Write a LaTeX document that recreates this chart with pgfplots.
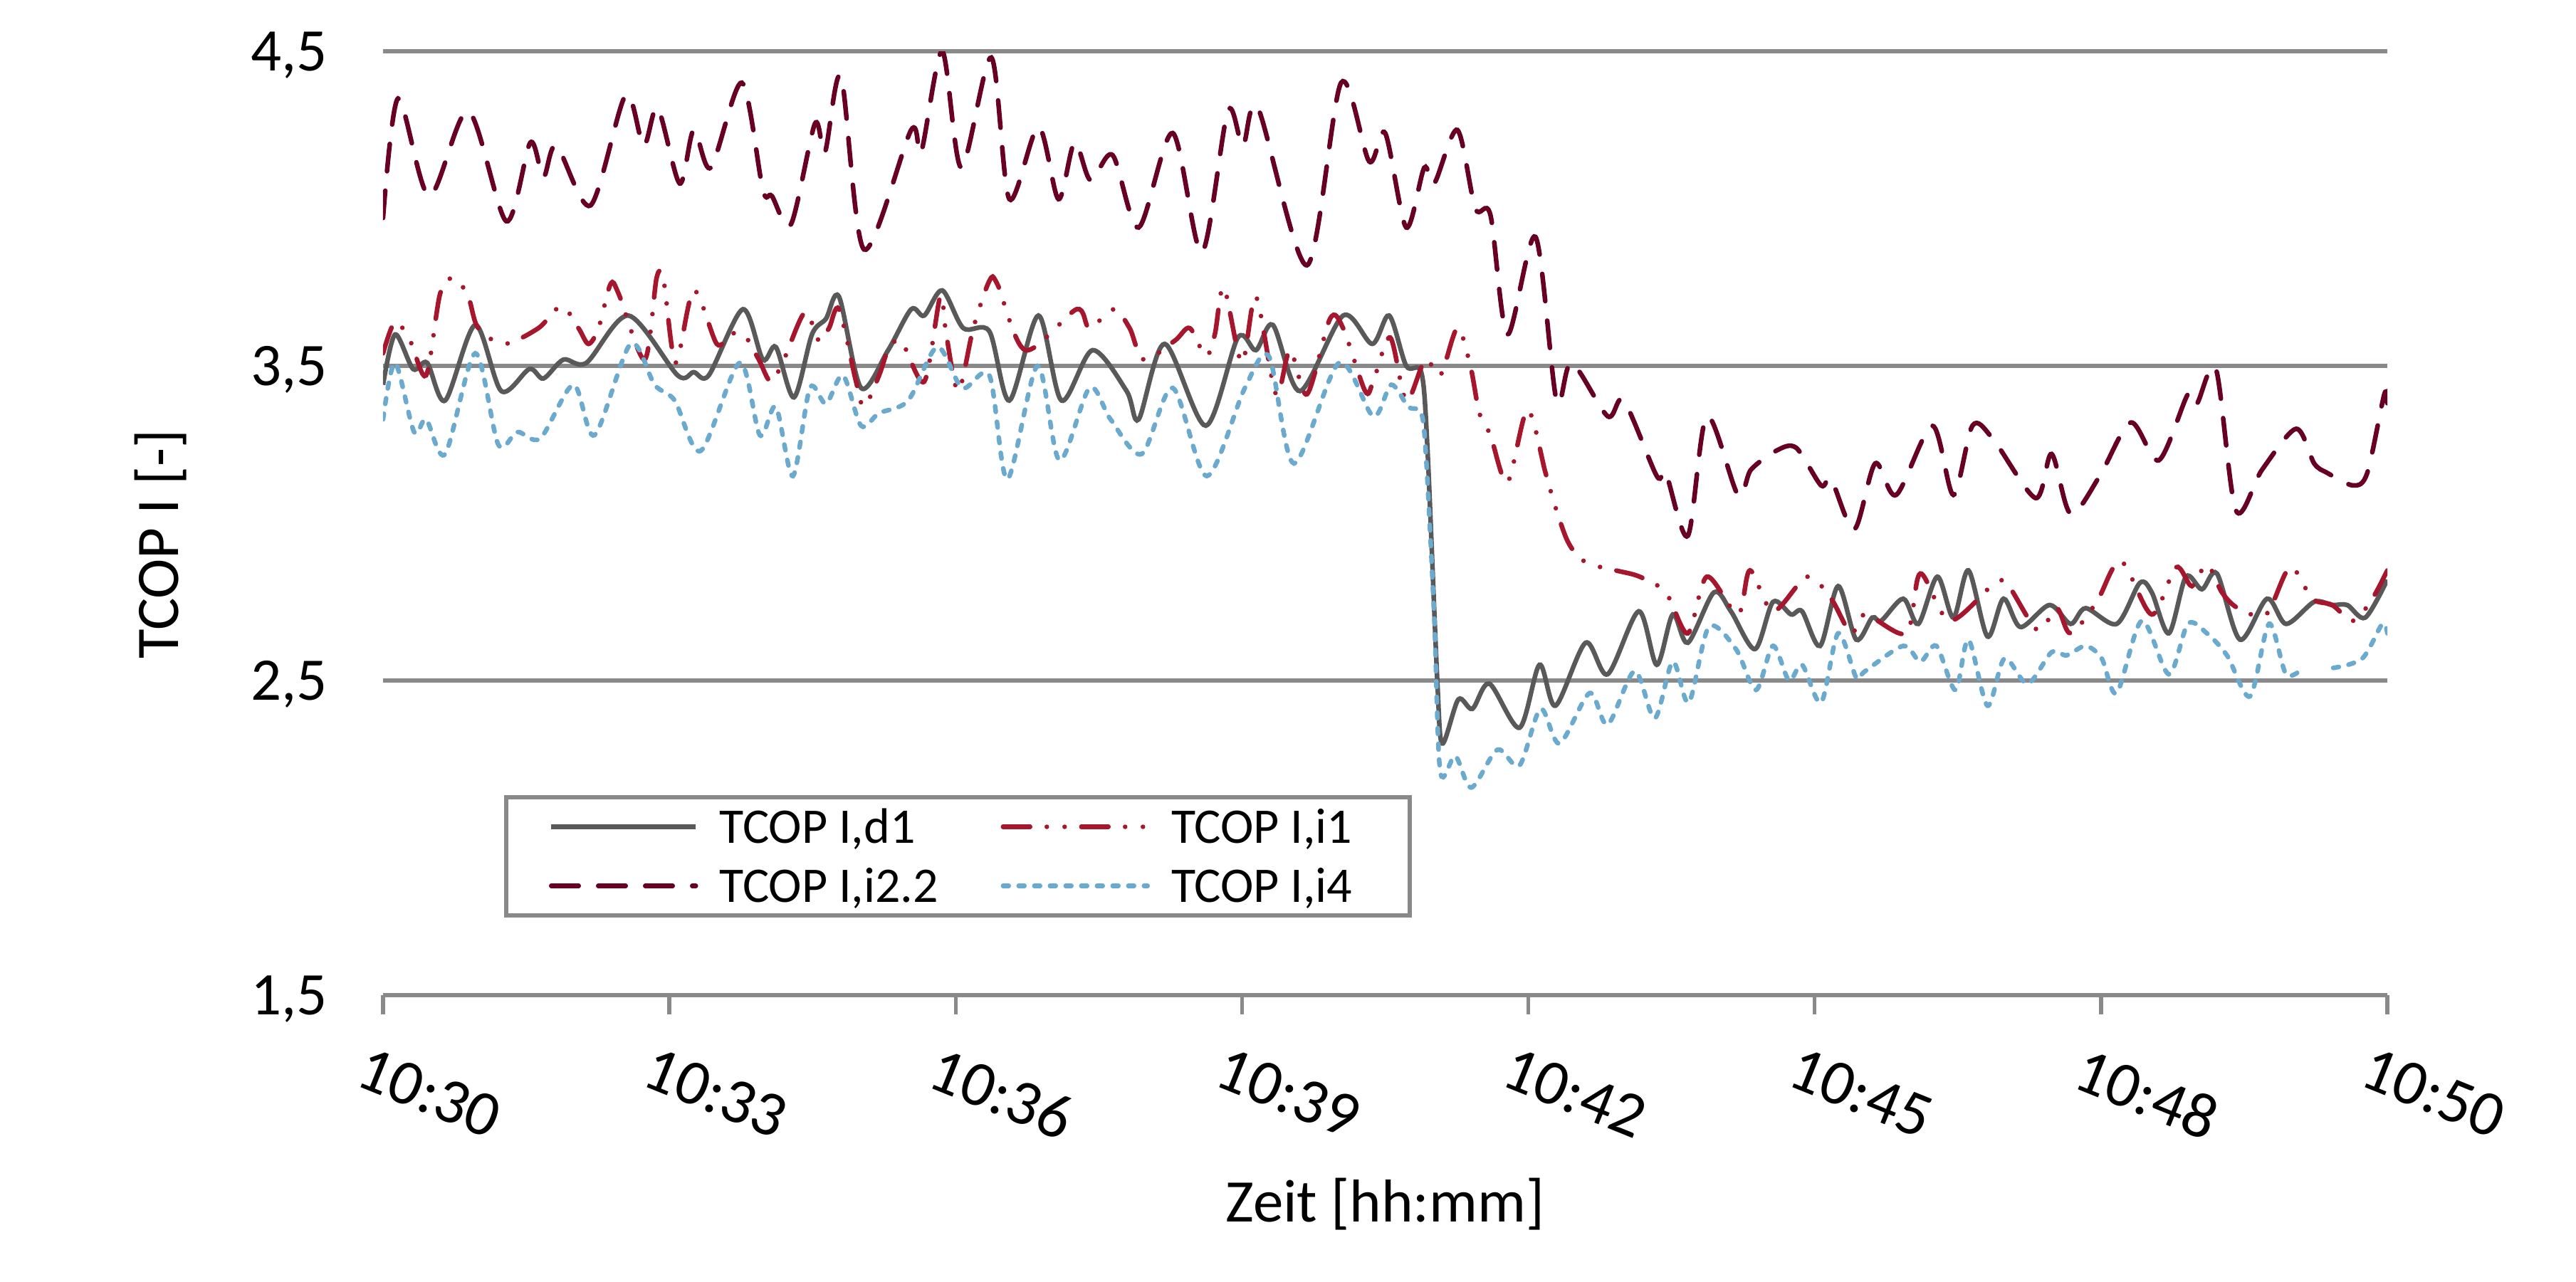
\documentclass[border=0pt]{standalone}
\usepackage{pgfplots}
\pgfplotsset{compat=1.18}
\usepackage{fontspec}
\setmainfont{Carlito}
\definecolor{cgrid}{HTML}{898989}
\definecolor{cdone}{HTML}{595959}
\definecolor{cione}{HTML}{A6172D}
\definecolor{citwo}{HTML}{680022}
\definecolor{cifour}{HTML}{6BAACF}
\newcommand{\bigf}{\fontsize{17}{20}\selectfont}
\begin{document}
\begin{tikzpicture}
\useasboundingbox (-107.6pt,-80.4pt) rectangle (616pt,279.6pt);
\begin{axis}[
  at={(0pt,0pt)}, anchor=south west,
  scale only axis, width=563pt, height=265.2pt,
  xmin=0, xmax=20, ymin=1.5, ymax=4.5,
  separate axis lines,
  axis x line*=bottom, axis y line*=left,
  x axis line style={draw=cgrid, line width=1.1pt},
  y axis line style={draw=none},
  xtick={0,2.857142857,5.714285714,8.571428571,11.42857143,14.28571429,17.14285714,20},
  xticklabels={10:30,10:33,10:36,10:39,10:42,10:45,10:48,10:50},
  xtick align=outside,
  major tick length=5.4pt,
  xtick style={draw=cgrid, line width=1.1pt},
  ytick={1.5,2.5,3.5,4.5},
  yticklabels={{1,5},{2,5},{3,5},{4,5}},
  ytick style={draw=none},
  ymajorgrids,
  grid style={draw=cgrid, line width=1.1pt},
  xticklabel style={font=\fontsize{18}{21}\selectfont, rotate=-22, anchor=north west, inner sep=0pt, yshift=-9.5pt, xshift=-0.5pt},
  yticklabel style={font=\bigf, anchor=east, inner sep=0pt, text height=10.95pt, text depth=0pt, xshift=-15.4pt},
  xlabel={Zeit [hh:mm]},
  ylabel={TCOP I [-]},
  every axis x label/.style={at={(axis description cs:0.5,-0.2195)}, anchor=center, font=\bigf, text height=10.95pt, text depth=0pt, inner sep=0pt},
  every axis y label/.style={at={(axis description cs:-0.1117,0.4778)}, anchor=center, rotate=90, font=\bigf, text height=10.95pt, text depth=0pt, inner sep=0pt},
  legend columns=2,
  legend cell align=left,
  legend style={at={(axis description cs:0.0604,0.2119)}, anchor=north west, draw=cgrid, line width=1.2pt, inner sep=0pt, column sep=0pt, row sep=0pt, font=\fontsize{14}{16}\selectfont, nodes={inner sep=0pt, text height=12.8pt, text depth=3.8pt}},
  legend image code/.code={\path (0pt,0pt) (58.6pt,0pt); \draw[#1] (12pt,0pt) -- (52.6pt,0pt);},
  unbounded coords=jump,
  every axis plot/.append style={line width=1.3pt, smooth, tension=0.5},
]
\addplot[color=cdone, solid] coordinates {
(0,3.44)(0.12,3.60)(0.30,3.49)(0.44,3.51)(0.62,3.39)(0.92,3.63)(1.18,3.42)(1.46,3.49)(1.60,3.46)(1.80,3.52)
(2.03,3.51)(2.45,3.66)(2.94,3.47)(3.10,3.48)(3.25,3.47)(3.59,3.68)(3.79,3.52)(3.92,3.56)(4.10,3.40)(4.28,3.60)
(4.42,3.65)(4.55,3.72)(4.77,3.43)(5.04,3.55)(5.27,3.68)(5.40,3.66)(5.58,3.74)(5.79,3.62)(6.05,3.61)(6.25,3.39)
(6.54,3.66)(6.77,3.39)(7.08,3.55)(7.42,3.42)(7.54,3.33)(7.80,3.57)(8.21,3.31)(8.53,3.59)(8.71,3.55)(8.88,3.63)
(9.15,3.42)(9.58,3.66)(9.87,3.57)(10.04,3.66)(10.21,3.50)(10.36,3.48)(10.42,3.25)(10.52,2.50)(10.57,2.30)
(10.73,2.44)(10.87,2.41)(11.04,2.49)(11.34,2.35)(11.54,2.55)(11.70,2.42)(12.00,2.62)(12.22,2.52)(12.53,2.72)
(12.71,2.55)(12.87,2.71)(13.02,2.62)(13.28,2.78)(13.45,2.72)(13.69,2.60)(13.87,2.75)(14.05,2.71)(14.16,2.72)
(14.34,2.61)(14.52,2.80)(14.70,2.63)(14.86,2.70)(14.95,2.69)(15.17,2.76)(15.32,2.68)(15.51,2.83)(15.67,2.70)
(15.82,2.85)(16.01,2.64)(16.17,2.76)(16.34,2.67)(16.63,2.74)(16.84,2.68)(16.99,2.73)(17.30,2.68)(17.53,2.81)
(17.65,2.78)(17.82,2.65)(17.99,2.83)(18.15,2.79)(18.30,2.84)(18.53,2.63)(18.80,2.76)(18.99,2.68)(19.27,2.75)
(19.45,2.74)(19.60,2.74)(19.78,2.70)(20.0,2.82)
};
\addlegendentry{\makebox[67pt][l]{TCOP I,d1}}
\addplot[color=cione, dash pattern=on 7.6pt off 4.7pt on 0pt off 5pt on 0pt off 4.7pt, line cap=round] coordinates {
(0,3.54)(0.12,3.64)(0.27,3.58)(0.43,3.47)(0.57,3.73)(0.71,3.78)(0.85,3.72)(0.95,3.62)(1.21,3.57)(1.55,3.62)
(1.78,3.69)(1.95,3.62)(2.05,3.57)(2.15,3.62)(2.27,3.76)(2.35,3.73)(2.61,3.52)(2.73,3.78)(2.80,3.77)(2.92,3.51)
(3.10,3.74)(3.33,3.57)(3.46,3.60)(3.60,3.60)(3.75,3.52)(3.87,3.45)(4.00,3.52)(4.21,3.67)(4.35,3.58)(4.45,3.62)
(4.55,3.68)(4.72,3.45)(4.80,3.37)(4.95,3.47)(5.04,3.55)(5.17,3.58)(5.40,3.45)(5.56,3.72)(5.62,3.60)(5.74,3.42)
(5.89,3.62)(6.05,3.77)(6.13,3.76)(6.41,3.55)(6.92,3.68)(7.05,3.62)(7.29,3.68)(7.45,3.62)(7.59,3.52)(7.90,3.58)
(8.05,3.62)(8.21,3.53)(8.30,3.60)(8.39,3.75)(8.57,3.51)(8.71,3.72)(8.91,3.41)(9.05,3.55)(9.22,3.41)(9.45,3.65)
(9.58,3.62)(9.80,3.42)(9.88,3.45)(10.05,3.59)(10.21,3.39)(10.40,3.52)(10.55,3.47)(10.72,3.62)(10.85,3.50)
(10.94,3.35)(11.05,3.28)(11.22,3.13)(11.42,3.36)(11.60,3.16)(11.70,3.05)(11.81,2.95)(11.91,2.90)(12.04,2.87)
(12.30,2.85)(12.54,2.83)(12.80,2.78)(13.02,2.65)(13.21,2.83)(13.52,2.71)(13.64,2.85)(13.87,2.72)(14.21,2.83)
(14.45,2.76)(14.65,2.65)(14.79,2.71)(15.20,2.65)(15.34,2.84)(15.63,2.69)(16.05,2.80)(16.20,2.81)(16.51,2.66)
(16.70,2.73)(16.84,2.65)(17.10,2.75)(17.34,2.88)(17.65,2.71)(17.89,2.86)(18.05,2.80)(18.20,2.87)(18.35,2.78)
(18.51,2.73)(18.79,2.71)(19.03,2.86)(19.25,2.76)(19.45,2.74)(19.66,2.69)(19.85,2.76)(20.0,2.85)
};
\addlegendentry{\makebox[67pt][l]{TCOP I,i1}}
\addplot[color=citwo, dash pattern=on 7.7pt off 5.5pt, line cap=round] coordinates {
(0,3.97)(0.15,4.35)(0.46,4.04)(0.85,4.31)(1.23,3.96)(1.47,4.21)(1.60,4.10)(1.73,4.20)(2.07,4.01)(2.42,4.36)
(2.60,4.20)(2.74,4.32)(2.96,4.08)(3.10,4.25)(3.27,4.13)(3.58,4.40)(3.79,4.06)(3.88,4.04)(4.07,3.95)(4.31,4.27)
(4.41,4.18)(4.57,4.42)(4.80,3.87)(5.27,4.25)(5.37,4.18)(5.58,4.50)(5.77,4.13)(6.07,4.48)(6.25,4.03)(6.54,4.26)
(6.74,4.03)(6.90,4.21)(7.06,4.09)(7.28,4.17)(7.54,3.94)(7.88,4.24)(8.17,3.86)(8.43,4.31)(8.58,4.20)(8.73,4.32)
(9.22,3.82)(9.56,4.40)(9.84,4.15)(10.0,4.24)(10.21,3.94)(10.39,4.13)(10.49,4.08)(10.72,4.25)(10.90,4.00)
(11.05,3.98)(11.22,3.60)(11.50,3.91)(11.71,3.39)(11.86,3.51)(12.22,3.34)(12.38,3.39)(12.71,3.15)(12.80,3.16)
(13.02,2.96)(13.21,3.34)(13.52,3.09)(13.65,3.17)(13.90,3.23)(14.10,3.24)(14.35,3.12)(14.45,3.14)(14.68,2.98)
(14.89,3.19)(15.10,3.09)(15.46,3.31)(15.67,3.09)(15.86,3.31)(16.06,3.27)(16.49,3.08)(16.65,3.22)(16.84,3.03)
(17.13,3.15)(17.44,3.32)(17.72,3.20)(18.01,3.41)(18.10,3.38)(18.29,3.49)(18.49,3.04)(18.75,3.17)(19.09,3.30)
(19.27,3.19)(19.40,3.16)(19.66,3.12)(19.80,3.16)(19.97,3.41)(20.0,3.38)
};
\addlegendentry{\makebox[67pt][l]{TCOP I,i2.2}}
\addplot[color=cifour, dash pattern=on 1.6pt off 2.8pt, line cap=round] coordinates {
(0,3.33)(0.12,3.51)(0.31,3.29)(0.43,3.33)(0.62,3.22)(0.92,3.54)(1.15,3.25)(1.34,3.29)(1.57,3.27)(1.90,3.44)
(2.11,3.28)(2.47,3.57)(2.71,3.44)(2.91,3.39)(3.17,3.23)(3.56,3.51)(3.76,3.28)(3.92,3.37)(4.09,3.15)(4.26,3.43)
(4.42,3.38)(4.59,3.47)(4.77,3.31)(4.95,3.35)(5.24,3.39)(5.53,3.56)(5.78,3.43)(6.05,3.47)(6.23,3.14)(6.53,3.50)
(6.75,3.20)(7.05,3.43)(7.26,3.33)(7.57,3.22)(7.88,3.43)(8.22,3.15)(8.60,3.43)(8.84,3.53)(9.09,3.19)(9.54,3.51)
(9.88,3.34)(10.06,3.44)(10.23,3.37)(10.36,3.35)(10.41,3.20)(10.49,2.70)(10.55,2.21)(10.70,2.26)(10.86,2.16)
(11.12,2.28)(11.34,2.23)(11.55,2.41)(11.74,2.30)(12.04,2.46)(12.22,2.36)(12.49,2.53)(12.69,2.38)(12.87,2.56)
(13.03,2.43)(13.23,2.67)(13.50,2.60)(13.70,2.47)(13.87,2.61)(14.03,2.50)(14.16,2.55)(14.35,2.43)(14.52,2.65)
(14.70,2.51)(14.79,2.53)(15.17,2.61)(15.34,2.56)(15.50,2.61)(15.69,2.47)(15.82,2.63)(16.01,2.42)(16.18,2.57)
(16.41,2.49)(16.65,2.59)(16.80,2.58)(16.99,2.61)(17.15,2.57)(17.30,2.46)(17.55,2.69)(17.82,2.52)(18.01,2.68)
(18.20,2.65)(18.40,2.58)(18.63,2.45)(18.82,2.68)(18.99,2.52)(19.16,2.54)(19.3,nan)(19.46,2.54)(19.75,2.57)
(19.95,2.68)(20.0,2.65)
};
\addlegendentry{\makebox[67pt][l]{TCOP I,i4}}
\end{axis}
\end{tikzpicture}
\end{document}
